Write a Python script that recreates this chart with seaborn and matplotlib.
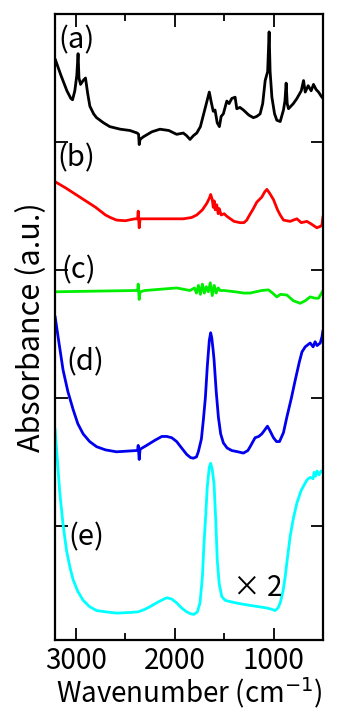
import matplotlib
matplotlib.use("Agg")
import matplotlib.pyplot as plt
import pandas as pd
import seaborn as sns
from matplotlib.ticker import MultipleLocator

# Spectra (wavenumber in cm-1, offset absorbance in a.u.)
wn_a = [3210, 3150, 3090, 3050, 3033, 3010, 2990, 2977, 2968, 2952, 2926, 2902, 2880, 2858, 2820,
        2790, 2720, 2656, 2550, 2453, 2379, 2365, 2359, 2350, 2318, 2230, 2149, 2060, 1980,
        1913, 1880, 1845, 1810, 1777, 1740, 1710, 1680, 1650, 1630, 1610, 1592, 1570, 1548, 1530,
        1508, 1473, 1450, 1423, 1389, 1372, 1340, 1305, 1250, 1204, 1170, 1136, 1110, 1085, 1060,
        1045, 1035, 1017, 990, 967, 933, 900, 885, 873, 862, 849, 800, 764, 720, 697, 680, 650,
        620, 596, 570, 545, 520, 500]
abs_a = [4.65, 4.52, 4.40, 4.34, 4.33, 4.40, 4.52, 4.69, 4.50, 4.45, 4.48, 4.50, 4.38, 4.28, 4.22,
         4.19, 4.15, 4.12, 4.10, 4.09, 4.07, 4.06, 3.98, 4.02, 4.04, 4.08, 4.10, 4.09, 4.06,
         4.07, 4.05, 4.02, 4.05, 4.07, 4.12, 4.21, 4.30, 4.39, 4.31, 4.24, 4.25, 4.15, 4.12, 4.20,
         4.22, 4.32, 4.30, 4.34, 4.35, 4.26, 4.27, 4.25, 4.21, 4.19, 4.20, 4.22, 4.30, 4.48, 4.55,
         4.86, 4.55, 4.35, 4.22, 4.17, 4.16, 4.25, 4.32, 4.46, 4.30, 4.26, 4.30, 4.34, 4.40, 4.48,
         4.39, 4.44, 4.40, 4.45, 4.41, 4.39, 4.36, 4.34]

wn_b = [3210, 3100, 3000, 2900, 2800, 2700, 2650, 2588, 2500, 2402, 2375, 2369, 2359, 2350, 2318,
        2100, 1913, 1830, 1777, 1720, 1676, 1650, 1636, 1620, 1610, 1600, 1590, 1575, 1560, 1550,
        1530, 1500, 1473, 1400, 1339, 1300, 1271, 1250, 1204, 1170, 1119, 1090, 1068, 1040, 1001,
        960, 933, 900, 832, 800, 764, 720, 663, 620, 562, 530, 511, 500]
abs_b = [3.69, 3.64, 3.59, 3.54, 3.49, 3.43, 3.41, 3.39, 3.385, 3.40, 3.40, 3.46, 3.33, 3.40, 3.40,
         3.40, 3.40, 3.41, 3.43, 3.47, 3.52, 3.56, 3.59, 3.55, 3.49, 3.54, 3.47, 3.51, 3.44, 3.48,
         3.43, 3.44, 3.42, 3.38, 3.37, 3.37, 3.39, 3.42, 3.48, 3.53, 3.57, 3.61, 3.63, 3.60, 3.55,
         3.47, 3.43, 3.39, 3.38, 3.39, 3.40, 3.37, 3.38, 3.36, 3.33, 3.34, 3.35, 3.42]

wn_c = [3210, 2402, 2375, 2369, 2359, 2350, 2301, 1980, 1845, 1800, 1780, 1760, 1740, 1720, 1700,
        1680, 1660, 1640, 1620, 1600, 1580, 1560, 1540, 1500, 1389, 1300, 1237, 1180, 1119, 1052,
        1010, 967, 930, 866, 800, 731, 680, 630, 580, 545, 500]
abs_c = [2.83, 2.84, 2.84, 2.89, 2.77, 2.83, 2.84, 2.86, 2.84, 2.86, 2.82, 2.88, 2.81, 2.89, 2.82,
         2.87, 2.83, 2.90, 2.80, 2.88, 2.82, 2.86, 2.84, 2.84, 2.83, 2.82, 2.82, 2.83, 2.84, 2.845,
         2.82, 2.79, 2.81, 2.805, 2.76, 2.74, 2.76, 2.79, 2.78, 2.78, 2.84]

wn_d = [3210, 3170, 3129, 3080, 3027, 2980, 2926, 2860, 2790, 2700, 2588, 2385, 2375, 2369, 2359,
        2350, 2284, 2200, 2130, 2081, 2030, 1980, 1930, 1879, 1840, 1812, 1780, 1761, 1730, 1710,
        1690, 1670, 1650, 1636, 1625, 1612, 1602, 1580, 1558, 1535, 1508, 1470, 1423, 1360, 1305,
        1260, 1237, 1187, 1150, 1119, 1090, 1062, 1040, 1001, 970, 940, 900, 866, 820, 781, 740,
        713, 680, 630, 600, 580, 560, 528, 510, 500]
abs_d = [2.64, 2.43, 2.22, 2.05, 1.91, 1.80, 1.72, 1.66, 1.62, 1.595, 1.58, 1.59, 1.59, 1.63, 1.52,
         1.60, 1.63, 1.67, 1.70, 1.70, 1.69, 1.66, 1.61, 1.56, 1.535, 1.53, 1.54, 1.58, 1.68, 1.83,
         2.00, 2.25, 2.45, 2.51, 2.47, 2.38, 2.30, 2.05, 1.85, 1.72, 1.65, 1.61, 1.59, 1.58, 1.57,
         1.59, 1.62, 1.69, 1.70, 1.72, 1.75, 1.78, 1.75, 1.69, 1.66, 1.66, 1.73, 1.85, 2.00, 2.14,
         2.28, 2.36, 2.40, 2.43, 2.40, 2.44, 2.41, 2.43, 2.48, 2.53]

wn_e = [3210, 3190, 3162, 3130, 3094, 3060, 3027, 2980, 2926, 2860, 2790, 2700, 2588, 2450, 2369,
        2300, 2250, 2160, 2081, 2030, 1980, 1930, 1879, 1840, 1805, 1770, 1744, 1720, 1703, 1685,
        1670, 1650, 1636, 1620, 1602, 1585, 1569, 1550, 1524, 1490, 1440, 1350, 1237, 1150, 1068,
        1020, 984, 955, 933, 905, 883, 860, 832, 800, 764, 720, 663, 630, 600, 590, 575, 560, 540,
        520, 500]
abs_e = [1.76, 1.55, 1.26, 1.02, 0.81, 0.68, 0.58, 0.49, 0.42, 0.37, 0.34, 0.33, 0.32, 0.325, 0.33,
         0.35, 0.37, 0.41, 0.44, 0.43, 0.40, 0.36, 0.33, 0.315, 0.31, 0.33, 0.40, 0.60, 0.87, 1.10,
         1.31, 1.46, 1.49, 1.44, 1.33, 1.05, 0.73, 0.55, 0.45, 0.42, 0.41, 0.395, 0.38, 0.37, 0.36,
         0.35, 0.34, 0.36, 0.40, 0.49, 0.60, 0.75, 0.92, 1.06, 1.18, 1.28, 1.36, 1.38, 1.37, 1.42,
         1.39, 1.43, 1.40, 1.43, 1.42]

labels = ["(a)", "(b)", "(c)", "(d)", "(e)"]
colors = ["#000000", "#ff0000", "#00ee00", "#0000ee", "#00ffff"]

frames = []
for lab, wn, ab in zip(labels, [wn_a, wn_b, wn_c, wn_d, wn_e], [abs_a, abs_b, abs_c, abs_d, abs_e]):
    frames.append(pd.DataFrame({"wn": wn, "abs": ab, "sample": lab}))
df = pd.concat(frames, ignore_index=True)

sns.set_style("ticks")
plt.rcParams['font.family'] = ['Noto Sans CJK JP', 'DejaVu Sans']
plt.rcParams['text.color'] = 'black'
plt.rcParams['axes.labelcolor'] = 'black'
plt.rcParams['xtick.color'] = 'black'
plt.rcParams['ytick.color'] = 'black'

fig = plt.figure(figsize=(3.44, 7.10), dpi=100)
ax = fig.add_axes([0.160, 0.0986, 0.779, 0.8817])

sns.lineplot(data=df, x="wn", y="abs", hue="sample", palette=colors, sort=False,
             estimator=None, linewidth=2.0, legend=False, ax=ax)

ax.set_xlim(3210, 500)
ax.set_ylim(0.11, 5.0)
ax.xaxis.set_major_locator(MultipleLocator(1000))
ax.xaxis.set_minor_locator(MultipleLocator(500))
ax.set_yticks([1, 2, 3, 4])
ax.set_yticklabels([])
ax.tick_params(axis="both", which="major", direction="in", length=9, width=1.3,
               top=True, right=True, bottom=True, left=True, labelsize=20, pad=4)
ax.tick_params(axis="x", which="minor", direction="in", length=5, width=1.3, top=True, bottom=True)
for s in ax.spines.values():
    s.set_linewidth(1.6)
    s.set_color("black")

ax.set_xlabel("Wavenumber (cm$^{-1}$)", fontsize=20, labelpad=0)
ax.set_ylabel("Absorbance (a.u.)", fontsize=22, labelpad=2)

# curve labels
label_pos = [(3172, 4.79), (3190, 3.87), (3142, 3.00), (3091, 2.28), (3080, 0.91)]
for lab, (x, y) in zip(labels, label_pos):
    ax.text(x, y, lab, fontsize=21, ha="left", va="center")
ax.text(1156, 0.52, "× 2", fontsize=20, ha="center", va="center")

fig.savefig("out.png", dpi=100)
